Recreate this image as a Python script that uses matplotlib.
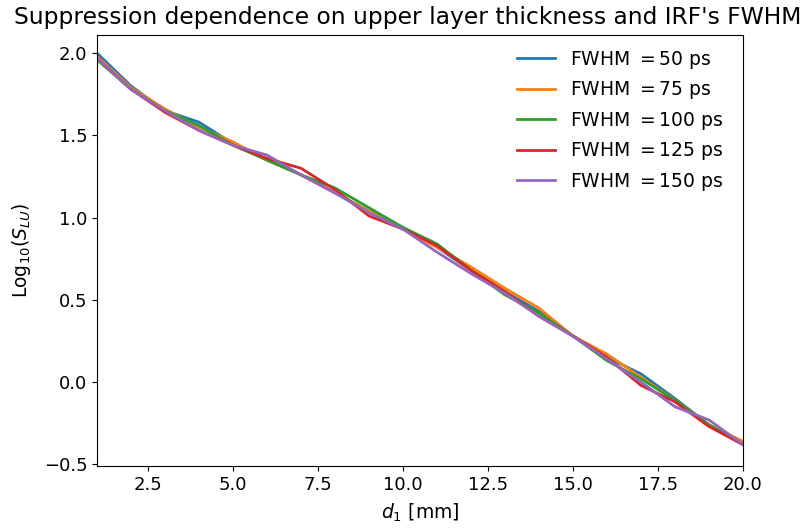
import matplotlib
matplotlib.use("Agg")
import matplotlib.pyplot as plt

# Upper layer thickness d1 in mm
d1 = list(range(1, 21))

# log10 of the suppression for each IRF width
fwhm_labels = ["50", "75", "100", "125", "150"]
s_50 = [2.00, 1.80, 1.65, 1.58, 1.45, 1.35, 1.26, 1.15, 1.04, 0.94,
        0.82, 0.68, 0.55, 0.43, 0.28, 0.15, 0.05, -0.10, -0.26, -0.37]
s_75 = [1.98, 1.79, 1.66, 1.55, 1.46, 1.35, 1.26, 1.15, 1.04, 0.93,
        0.82, 0.70, 0.57, 0.45, 0.28, 0.17, 0.03, -0.11, -0.26, -0.36]
s_100 = [1.96, 1.78, 1.65, 1.56, 1.44, 1.35, 1.26, 1.18, 1.06, 0.94,
         0.84, 0.68, 0.53, 0.42, 0.28, 0.13, 0.02, -0.11, -0.26, -0.38]
s_125 = [1.97, 1.78, 1.64, 1.53, 1.44, 1.36, 1.30, 1.17, 1.01, 0.93,
         0.83, 0.68, 0.55, 0.40, 0.28, 0.15, -0.02, -0.12, -0.27, -0.38]
s_150 = [1.97, 1.78, 1.65, 1.53, 1.44, 1.38, 1.26, 1.15, 1.03, 0.93,
         0.79, 0.66, 0.54, 0.40, 0.28, 0.14, 0.00, -0.15, -0.23, -0.38]
series = [s_50, s_75, s_100, s_125, s_150]

fig = plt.figure(figsize=(8.08, 5.32), dpi=100)
ax = fig.add_axes([97 / 808, 1 - 466 / 532, (743 - 97) / 808, (466 - 35) / 532])

for label, values in zip(fwhm_labels, series):
    ax.plot(d1, values, linewidth=2, label=f"FWHM $= {label}$ ps")

ax.set_xlim(1, 20)
ax.set_ylim(-0.51, 2.11)
ax.set_xlabel("$d_1$ [mm]", fontsize=13.5, labelpad=6)
ax.set_ylabel("Log$_{10}$($S_{LU}$)", fontsize=13.5, labelpad=8)
ax.set_title("Suppression dependence on upper layer thickness and IRF's FWHM",
             fontsize=16.8, pad=8, x=(407.5 - 97) / 646)
ax.tick_params(labelsize=13)
ax.legend(frameon=False, fontsize=13.5, loc="upper right", labelspacing=0.45,
          bbox_to_anchor=(1 - 3 / 646, 1 + 3 / 431))

fig.savefig("out.png", dpi=100)
